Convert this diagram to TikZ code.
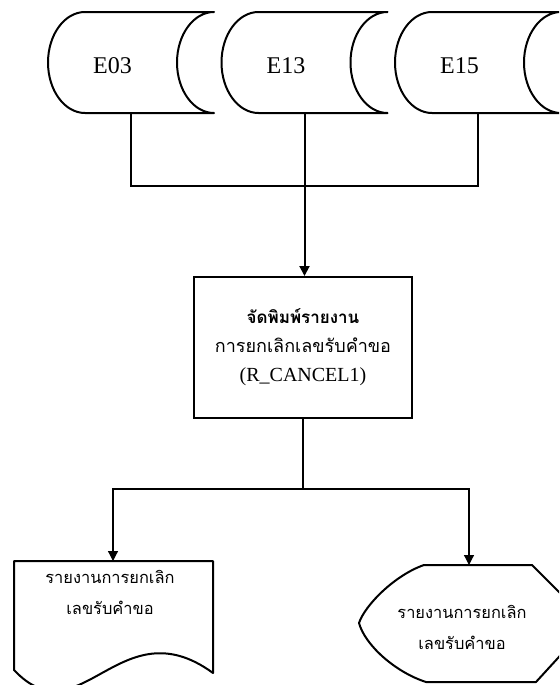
\documentclass[tikz,border=0pt]{standalone}
\usepackage{fontspec}
\setmainfont{Liberation Serif}
\newfontfamily\thaifont[Script=Thai]{Loma}
\usetikzlibrary{arrows.meta}

\tikzset{
  outline/.style={draw=black, line width=1pt, line join=round},
  link/.style={black, line width=1pt},
  thinlink/.style={black, line width=0.6pt},
  tip/.style={-{Triangle[length=5pt,width=5pt]}},
  tapetext/.style={font=\fontsize{12}{14}\selectfont},
  printbox/.style={draw=black, line width=1pt, minimum width=109pt, minimum height=70.5pt,
    align=center, font=\fontsize{10}{14.5}\selectfont},
  reporttext/.style={align=center, font=\thaifont\fontsize{8.2}{15.5}\selectfont}
}

\begin{document}
\begin{tikzpicture}[x=0.5pt,y=-0.5pt]
\useasboundingbox (0,0) rectangle (559,685);
\clip (0,0) rectangle (559,685);

% input tapes
\foreach \name/\txt/\dx in {e03/E03/0, e13/E13/173.5, e15/E15/347}{
  \draw[outline] (85+\dx,12) -- (214+\dx,12)
    .. controls (193.6+\dx,12) and (177+\dx,34.6) .. (177+\dx,62.5)
    .. controls (177+\dx,90.4) and (193.6+\dx,113) .. (214+\dx,113)
    -- (85+\dx,113)
    .. controls (64.6+\dx,113) and (48+\dx,90.4) .. (48+\dx,62.5)
    .. controls (48+\dx,34.6) and (64.6+\dx,12) .. cycle;
  \node[tapetext] (\name) at (112.5+\dx,66) {\txt};
  \coordinate (\name b) at (131+\dx,113);
}

% print program
\coordinate (jt) at (e13b |- 0,186);
\node[printbox] (print) at (303,347.5)
  {{\thaifont\fontsize{8.5}{14.5}\selectfont\bfseries จัดพิมพ์รายงาน}\\
   {\thaifont\fontsize{9}{14.5}\selectfont การยกเลิกเลขรับคำขอ}\\(R\_CANCEL1)};
\draw[link] (e03b) |- (jt) -| (e15b);
\draw[link] (e13b) -- (jt);
\draw[link,tip] (jt) -- (jt |- print.north);

% outputs
\coordinate (split) at (print.south |- 0,489);
\coordinate (doctop) at (113,561);
\coordinate (disptop) at (469,565);
\draw[thinlink] (print.south) -- (split);
\draw[thinlink,tip] (split) -| (doctop);
\draw[thinlink,tip] (split) -| (disptop);

\draw[outline] (14,561) -- (213,561) -- (213,673)
  .. controls (120,605) and (80,740) .. (14,670) -- cycle;
\node[reporttext] (report) at (110,592.5) {รายงานการยกเลิก\\เลขรับคำขอ};

\draw[outline] (424,565) -- (532,565) -- (590,623) -- (536,682) -- (426,682)
  .. controls (395,672) and (365,645) .. (359,623)
  .. controls (365,605) and (395,575) .. cycle;
\node[reporttext] (screen) at (462,627.5) {รายงานการยกเลิก\\เลขรับคำขอ};
\end{tikzpicture}
\end{document}
